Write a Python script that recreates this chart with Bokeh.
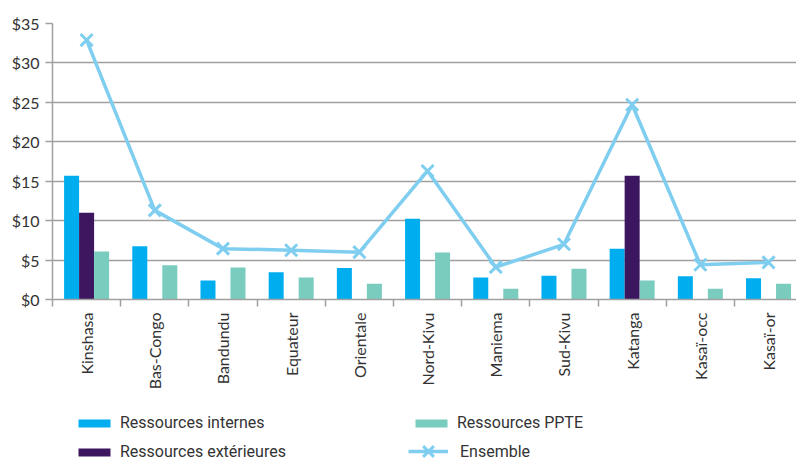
import math
from bokeh.plotting import figure
from bokeh.layouts import column
from bokeh.models import (ColumnDataSource, Range1d, FixedTicker,
                          Legend, LegendItem)
from bokeh.transform import dodge
from bokeh.embed import file_html
from bokeh.resources import INLINE

provinces = ["Kinshasa", "Bas-Congo", "Bandundu", "Equateur", "Orientale",
             "Nord-Kivu", "Maniema", "Sud-Kivu", "Katanga", "Kasaï-occ", "Kasaï-or"]
internes = [15.7, 6.75, 2.4, 3.45, 4.0, 10.25, 2.8, 3.0, 6.45, 2.95, 2.7]
exterieures = [11.0, 0, 0, 0, 0, 0, 0, 0, 15.7, 0, 0]
ppte = [6.1, 4.35, 4.05, 2.8, 2.0, 5.95, 1.35, 3.9, 2.4, 1.35, 2.0]
ensemble = [32.9, 11.3, 6.45, 6.25, 6.0, 16.3, 4.1, 7.0, 24.7, 4.4, 4.7]
y_ticks = [0, 5, 10, 15, 20, 25, 30, 35]
y_labels = ["$0", "$5", "$10", "$15", "$20", "$25", "$30", "$35"]
legend_labels = ["Ressources internes", "Ressources extérieures",
                 "Ressources PPTE", "Ensemble"]

C_INT = "#00aeef"
C_EXT = "#3d1660"
C_PPTE = "#7accbf"
C_ENS = "#7fcef0"
GRID = "#a0a0a0"
TXT = "#333333"

idx = list(range(len(provinces)))
src = ColumnDataSource(dict(idx=idx, internes=internes, exterieures=exterieures,
                            ppte=ppte, ensemble=ensemble))

p = figure(width=796, height=396, x_range=Range1d(0, 10.91), y_range=Range1d(0, 35),
           toolbar_location=None, output_backend="svg",
           min_border_left=52, min_border_right=0, min_border_top=23,
           min_border_bottom=97)
p.outline_line_color = None
p.background_fill_color = "white"

bw = 0.22
bar_specs = [("internes", -bw, C_INT), ("exterieures", 0.0, C_EXT), ("ppte", bw, C_PPTE)]
for col, off, colr in bar_specs:
    p.vbar(x=dodge("idx", 0.5 + off, range=p.x_range), top=col, width=bw,
           source=src, fill_color=colr, line_color=None)
p.line(x=dodge("idx", 0.5, range=p.x_range), y="ensemble", source=src,
       line_color=C_ENS, line_width=3.5)
p.scatter(x=dodge("idx", 0.5, range=p.x_range), y="ensemble", source=src,
          marker="x", size=17, line_color=C_ENS, line_width=3)

# grid
p.xgrid.visible = False
p.ygrid.ticker = FixedTicker(ticks=y_ticks)
p.ygrid.grid_line_color = GRID
p.ygrid.grid_line_width = 1.5

# y axis
ya = p.yaxis[0]
ya.ticker = FixedTicker(ticks=y_ticks)
ya.major_label_overrides = {t: l for t, l in zip(y_ticks, y_labels)}
ya.major_label_text_font = "Lato"
ya.major_label_text_font_size = "16px"
ya.major_label_text_color = TXT
ya.major_tick_out = 7
ya.major_tick_in = 0
ya.minor_tick_line_color = None
ya.axis_line_color = GRID
ya.axis_line_width = 1.5
ya.major_tick_line_color = GRID
ya.major_tick_line_width = 1.5
ya.major_label_standoff = 6

# x axis: labels at centres, boundary ticks as minor ticks
centers = [i + 0.5 for i in idx]
bounds = list(range(len(provinces) + 1))
xa = p.xaxis[0]
xa.ticker = FixedTicker(ticks=centers, minor_ticks=bounds)
xa.major_label_overrides = {c: n for c, n in zip(centers, provinces)}
xa.major_label_orientation = math.pi / 2
xa.major_tick_out = 7
xa.major_tick_in = 0
xa.major_tick_line_color = None
xa.minor_tick_out = 7
xa.minor_tick_in = 0
xa.minor_tick_line_color = GRID
xa.minor_tick_line_width = 1.5
xa.axis_line_color = GRID
xa.axis_line_width = 1.5
xa.major_label_standoff = 6
xa.major_label_text_font = "Lato"
xa.major_label_text_font_size = "16px"
xa.major_label_text_color = TXT

# legend panel: a second figure whose renderers use the same data, but whose
# ranges lie outside the data so only the legends show
lf = figure(width=796, height=65, toolbar_location=None, output_backend="svg",
            x_range=Range1d(-20, -19), y_range=Range1d(-20, -19),
            min_border=0, x_axis_location=None, y_axis_location=None)
lf.outline_line_color = None
lf.xgrid.visible = False
lf.ygrid.visible = False
l_int = lf.vbar(x="idx", top="internes", width=bw, source=src,
                fill_color=C_INT, line_color=None)
l_ext = lf.vbar(x="idx", top="exterieures", width=bw, source=src,
                fill_color=C_EXT, line_color=None)
l_ppte = lf.vbar(x="idx", top="ppte", width=bw, source=src,
                 fill_color=C_PPTE, line_color=None)
l_line = lf.line(x="idx", y="ensemble", source=src, line_color=C_ENS, line_width=3.5)
l_mark = lf.scatter(x="idx", y="ensemble", source=src, marker="x", size=17,
                    line_color=C_ENS, line_width=3)

common = dict(padding=0, margin=0, label_text_font="Roboto",
              label_text_font_size="16px", label_text_color=TXT,
              background_fill_alpha=0, border_line_color=None)

legend_a = Legend(items=[
    LegendItem(label=legend_labels[0], renderers=[l_int]),
    LegendItem(label=legend_labels[1], renderers=[l_ext]),
    LegendItem(label=legend_labels[2], renderers=[l_ppte]),
], location=(22, 0), orientation="vertical", ncols=2,
    glyph_width=40, glyph_height=10, label_standoff=6, label_width=281,
    label_height=16, spacing=10, **common)
lf.add_layout(legend_a, "center")

legend_b = Legend(items=[
    LegendItem(label=legend_labels[3], renderers=[l_line, l_mark]),
], location=(356, -9), orientation="vertical",
    glyph_width=40, glyph_height=38, label_standoff=12, label_height=16, **common)
lf.add_layout(legend_b, "center")

open("out.html", "w").write(file_html(column(p, lf, spacing=0), INLINE))
